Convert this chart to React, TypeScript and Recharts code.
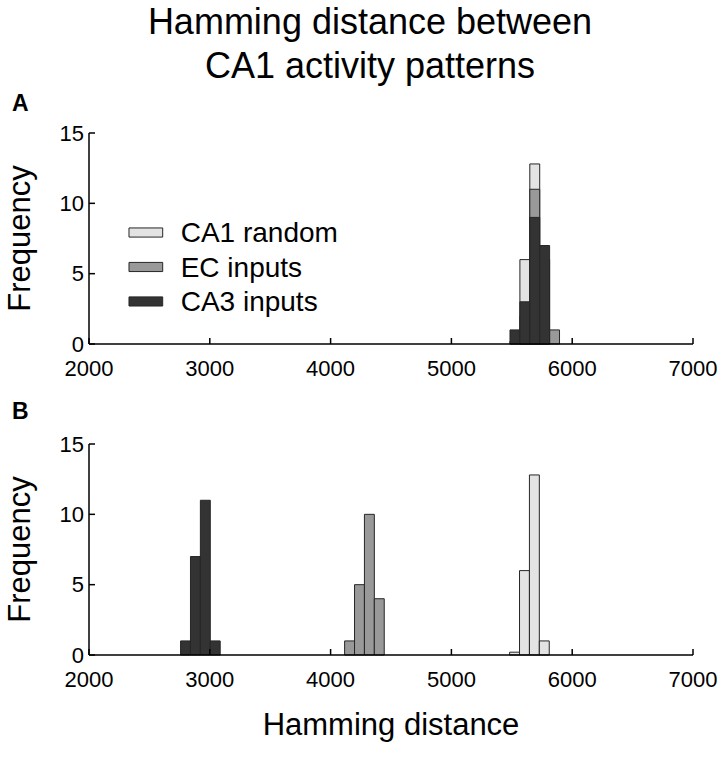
import React from "react";
import { ComposedChart, XAxis, YAxis, ReferenceArea, Label } from "recharts";

const xTicks = [2000, 3000, 4000, 5000, 6000, 7000];
const yTicks = [0, 5, 10, 15];

// bin edges (n+1 values) and counts (n values) per histogram
const binsA = [5485, 5567, 5649, 5731, 5813, 5895];
const randomA = [0.2, 6, 12.8, 1, 0];
const ecA = [0, 2, 11, 6, 1];
const ca3A = [1, 3, 9, 7, 0];

const binsRandomB = [5482, 5564, 5646, 5728, 5810];
const randomB = [0.2, 6, 12.8, 1];
const binsEcB = [4116, 4198, 4280, 4362, 4444];
const ecB = [1, 5, 10, 4];
const binsCa3B = [2758, 2840, 2922, 3004, 3086];
const ca3B = [1, 7, 11, 1];

const legendNames = ["CA1 random", "EC inputs", "CA3 inputs"];
const colors = ["#e3e3e3", "#999999", "#333333"];

const FONT = "'Liberation Sans', Arial, Helvetica, sans-serif";

type Hist = { name: string; color: string; edges: number[]; counts: number[] };

const panelA: Hist[] = [
  { name: legendNames[0], color: colors[0], edges: binsA, counts: randomA },
  { name: legendNames[1], color: colors[1], edges: binsA, counts: ecA },
  { name: legendNames[2], color: colors[2], edges: binsA, counts: ca3A },
];

const panelB: Hist[] = [
  { name: legendNames[0], color: colors[0], edges: binsRandomB, counts: randomB },
  { name: legendNames[1], color: colors[1], edges: binsEcB, counts: ecB },
  { name: legendNames[2], color: colors[2], edges: binsCa3B, counts: ca3B },
];

function FreqLabel(props: any) {
  const vb = props.viewBox || {};
  const cx = 30;
  const cy = (vb.y ?? 0) + (vb.height ?? 0) / 2;
  return (
    <text
      x={cx}
      y={cy}
      transform={`rotate(-90, ${cx}, ${cy})`}
      textAnchor="middle"
      fontSize={31}
      fill="#000"
      fontFamily={FONT}
    >
      Frequency
    </text>
  );
}

function Panel({ hists, legend }: { hists: Hist[]; legend?: boolean }) {
  return (
    <ComposedChart width={720} height={274} margin={{ top: 23, right: 27, bottom: 0, left: 0 }}>
      <XAxis
        type="number"
        dataKey="x"
        domain={[2000, 7000]}
        ticks={xTicks}
        interval={0}
        allowDataOverflow
        height={40}
        tickSize={-6}
        tickMargin={22}
        axisLine={{ stroke: "#000", strokeWidth: 1.5 }}
        tickLine={{ stroke: "#000", strokeWidth: 1.5 }}
        tick={{ fill: "#000", fontSize: 22, fontFamily: FONT }}
      />
      <YAxis
        type="number"
        domain={[0, 15]}
        ticks={yTicks}
        interval={0}
        allowDataOverflow
        width={89}
        tickSize={-6}
        tickMargin={11}
        axisLine={{ stroke: "#000", strokeWidth: 1.5 }}
        tickLine={{ stroke: "#000", strokeWidth: 1.5 }}
        tick={{ fill: "#000", fontSize: 22, fontFamily: FONT }}
      >
        <Label content={FreqLabel} />
      </YAxis>
      {hists.flatMap((h) =>
        h.counts.map((c, i) =>
          c > 0 ? (
            <ReferenceArea
              key={`${h.name}-${i}`}
              x1={h.edges[i]}
              x2={h.edges[i + 1]}
              y1={0}
              y2={c}
              fill={h.color}
              fillOpacity={1}
              stroke="#262626"
              strokeWidth={1}
              ifOverflow="visible"
            />
          ) : null
        )
      )}
      {legend &&
        legendNames.map((name, i) => (
          <ReferenceArea
            key={`lg-${i}`}
            x1={2331}
            x2={2610}
            y1={7.6 - i * 2.45}
            y2={8.25 - i * 2.45}
            fill={colors[i]}
            fillOpacity={1}
            stroke="#262626"
            strokeWidth={1}
            ifOverflow="visible"
            label={{
              value: name,
              position: "right",
              offset: 18,
              fill: "#000",
              fontSize: 28,
              fontFamily: FONT,
            }}
          />
        ))}
    </ComposedChart>
  );
}

export default function App() {
  return (
    <div
      style={{
        position: "absolute",
        left: 0,
        top: 0,
        width: 720,
        height: 770,
        background: "#fff",
        fontFamily: FONT,
        color: "#000",
      }}
    >
      <div
        style={{
          position: "absolute",
          top: 0,
          left: 0,
          width: 740,
          textAlign: "center",
          fontSize: 36,
          lineHeight: "44px",
        }}
      >
        Hamming distance between
        <br />
        CA1 activity patterns
      </div>
      <div style={{ position: "absolute", left: 12, top: 90, fontSize: 23, fontWeight: "bold" }}>A</div>
      <div style={{ position: "absolute", left: 12, top: 398, fontSize: 23, fontWeight: "bold" }}>B</div>
      <div style={{ position: "absolute", left: 0, top: 110 }}>
        <Panel hists={panelA} legend />
      </div>
      <div style={{ position: "absolute", left: 0, top: 421 }}>
        <Panel hists={panelB} />
      </div>
      <div
        style={{
          position: "absolute",
          left: 89,
          width: 604,
          top: 707,
          textAlign: "center",
          fontSize: 31,
        }}
      >
        Hamming distance
      </div>
    </div>
  );
}
